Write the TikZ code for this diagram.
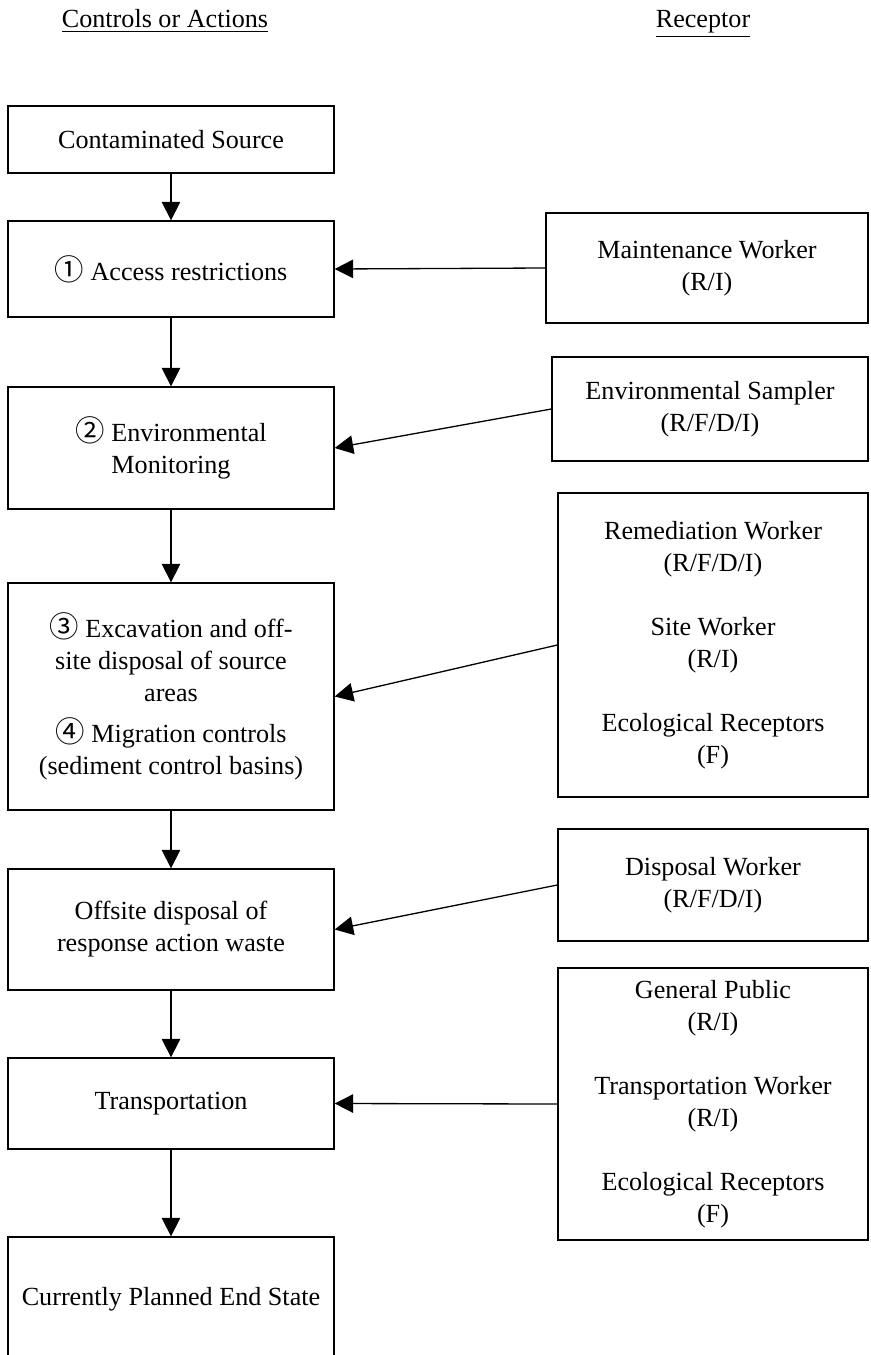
\documentclass[tikz,border=0pt]{standalone}
\usepackage{fontspec}
\setmainfont{Liberation Serif}
\newfontfamily\numfont{Noto Sans CJK JP}
\usetikzlibrary{arrows.meta}
\newcommand{\pxl}{0.459pt}
\newcommand{\cnum}[1]{{\numfont\fontsize{13.5}{14.7}\selectfont #1}}

\begin{document}
\begin{tikzpicture}[x=0.459pt,y=-0.459pt,
  font=\fontsize{12}{14.7}\selectfont,
  box/.style={draw,line width=0.6pt,align=center,inner sep=2pt},
  flow/.style={-{Triangle[length=8.5pt,width=8.5pt]},line width=0.6pt}]
\useasboundingbox (0,0) rectangle (870,1355);
% headings
\node[anchor=base] (ctrlhead) at (165,28) {\underline{Controls or Actions}};
\node[anchor=base] (rechead) at (703,28) {\underline{Receptor}};
% controls or actions
\node[box,minimum width=326*\pxl,minimum height=67*\pxl] (src) at (171,139.5) {Contaminated Source};
\node[box,minimum width=326*\pxl,minimum height=96*\pxl] (access) at (171,269) {\cnum{①} Access restrictions};
\node[box,minimum width=326*\pxl,minimum height=122*\pxl] (envmon) at (171,448) {\cnum{②} Environmental\\Monitoring};
\node[box,minimum width=326*\pxl,minimum height=227*\pxl] (excav) at (171,696.5) {\cnum{③} Excavation and off-\\site disposal of source\\areas\\[4pt]\cnum{④} Migration controls\\(sediment control basins)};
\node[box,minimum width=326*\pxl,minimum height=121*\pxl] (offsite) at (171,929.5) {Offsite disposal of\\response action waste};
\node[box,minimum width=326*\pxl,minimum height=91*\pxl] (transport) at (171,1103.5) {Transportation};
\node[box,minimum width=326*\pxl,minimum height=124*\pxl] (endstate) at (171,1299) {Currently Planned End State};
% receptors
\node[box,minimum width=322*\pxl,minimum height=110*\pxl] (maint) at (707,268) {Maintenance Worker\\(R/I)};
\node[box,minimum width=316*\pxl,minimum height=104*\pxl] (sampler) at (710,409) {Environmental Sampler\\(R/F/D/I)};
\node[box,minimum width=310*\pxl,minimum height=304*\pxl] (remed) at (713,645) {Remediation Worker\\(R/F/D/I)\\[14.7pt]Site Worker\\(R/I)\\[14.7pt]Ecological Receptors\\(F)};
\node[box,minimum width=310*\pxl,minimum height=112*\pxl] (disposal) at (713,885) {Disposal Worker\\(R/F/D/I)};
\node[box,minimum width=310*\pxl,minimum height=272*\pxl] (public) at (713,1104) {General Public\\(R/I)\\[14.7pt]Transportation Worker\\(R/I)\\[14.7pt]Ecological Receptors\\(F)};
% arrows
\foreach \a/\b in {src/access,access/envmon,envmon/excav,excav/offsite,offsite/transport,transport/endstate}
  \draw[flow] (\a) -- (\b);
\foreach \a/\b in {maint/access,sampler/envmon,remed/excav,disposal/offsite,public/transport}
  \draw[flow] (\a.west) -- (\b.east);
\end{tikzpicture}
\end{document}
